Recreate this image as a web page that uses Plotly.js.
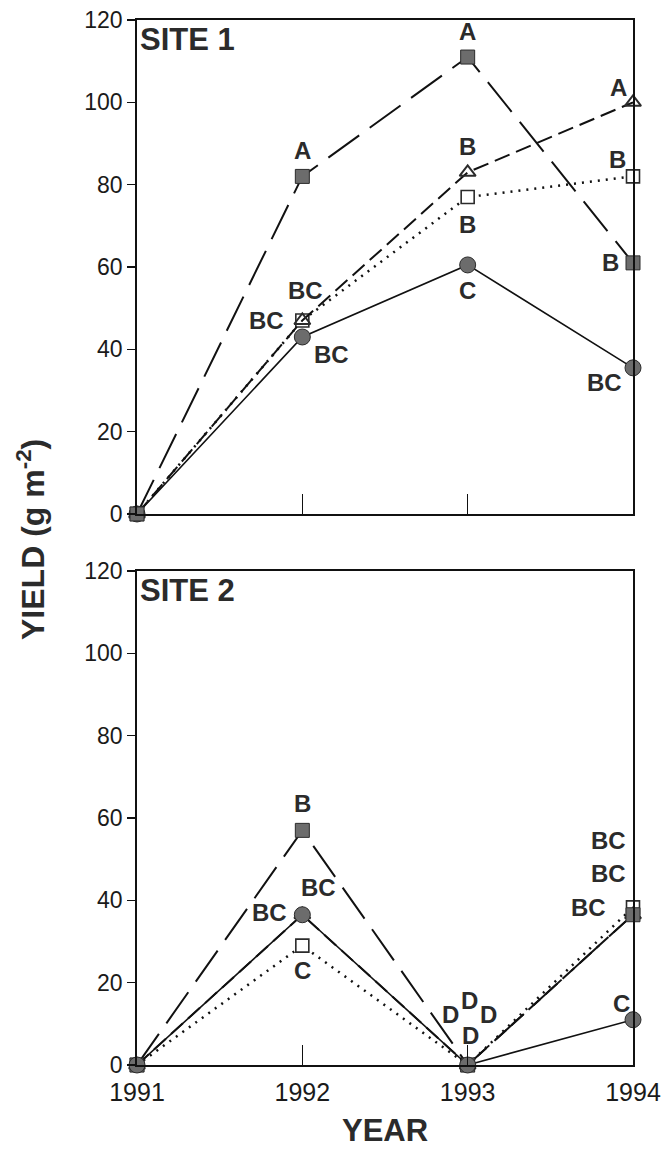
<!DOCTYPE html>
<html><head><meta charset="utf-8">
<script src="https://cdn.plot.ly/plotly-3.0.1.min.js"></script>
<style>html,body{margin:0;padding:0;background:#fff}#chart{width:661px;height:1154px}</style>
</head><body><div id="chart"></div>
<script>
// ---------------- data ----------------
const years = [1991, 1992, 1993, 1994];
const yTickVals = [0, 20, 40, 60, 80, 100, 120];
const xTickLabels = ['1991', '1992', '1993', '1994'];
const panelTitles = ['SITE 1', 'SITE 2'];
const xTitle = 'YEAR';
const yTitle = 'YIELD (g m<sup>-2</sup>)';

// Site 1
const s1FilledSquare = [0, 82, 111, 61];
const s1OpenTriangle = [0, 47, 83, 100];
const s1OpenSquare   = [0, 47, 77, 82];
const s1FilledCircle = [0, 43, 60.5, 35.5];
// Site 2
const s2FilledSquare = [0, 57, 0, 36.5];
const s2OpenTriangle = [0, 36.5, 0, 36.5];
const s2OpenSquare   = [0, 29, 0, 38.3];
const s2FilledCircle = [0, 36.5, 0, 11];

// significance letters
const s1FilledSquareLetters = ['', 'A', 'A', 'B'];
const s1OpenTriangleLetters = ['', 'BC', 'B', 'A'];
const s1OpenSquareLetters   = ['', 'BC', 'B', 'B'];
const s1FilledCircleLetters = ['', 'BC', 'C', 'BC'];
const s2FilledSquareLetters = ['', 'B', 'D', 'BC'];
const s2OpenTriangleLetters = ['', 'BC', 'D', 'BC'];
const s2OpenSquareLetters   = ['', 'C', 'D', 'BC'];
const s2FilledCircleLetters = ['', 'BC', 'D', 'C'];

// ---------------- styles / placement ----------------
const FONT = 'Liberation Sans, Arial, sans-serif';
const INK = '#2b2b2b';
const GRAY = '#6c6c6c';

const styles = {
  fsq:  {marker: {symbol: 'square', size: 14, color: GRAY, line: {color: INK, width: 1}},
         line: {color: '#111', width: 2, dash: '38px,13px'}},
  tri:  {marker: {symbol: 'triangle-up-open', size: 14, color: INK, line: {color: INK, width: 2}},
         line: {color: '#111', width: 2, dash: '16px,7px'}},
  osq:  {marker: {symbol: 'square', size: 13, color: '#fff', line: {color: INK, width: 1.6}},
         line: {color: '#111', width: 2.5, dash: '2px,6px'}},
  circ: {marker: {symbol: 'circle', size: 16, color: GRAY, line: {color: INK, width: 1}},
         line: {color: '#111', width: 1.6, dash: 'solid'}}
};

// label offsets [dx, dy] in screen pixels (dy downward)
const offsets = {
  s1fsq:  [null, [0, -26], [0, -26], [-23, 0]],
  s1tri:  [null, [3, -30], [0, -26], [-15, -15]],
  s1osq:  [null, [-36, 0], [0, 27], [-16, -17]],
  s1circ: [null, [29, 18], [0, 26], [-29, 15]],
  s2fsq:  [null, [0, -27], [-17, -50], [-25, -74]],
  s2tri:  [null, [-33, -2], [2, -64], [-25, -41]],
  s2osq:  [null, [0, 25], [21, -50], [-45, 0]],
  s2circ: [null, [16, -27], [3, -29], [-12, -16]]
};

function trace(ys, st, xa, ya) {
  return {x: years, y: ys, xaxis: xa, yaxis: ya, type: 'scatter', mode: 'lines+markers',
          marker: st.marker, line: st.line, cliponaxis: false, showlegend: false, hoverinfo: 'skip'};
}

const data = [
  trace(s1FilledCircle, styles.circ, 'x', 'y'),
  trace(s1OpenSquare, styles.osq, 'x', 'y'),
  trace(s1OpenTriangle, styles.tri, 'x', 'y'),
  trace(s1FilledSquare, styles.fsq, 'x', 'y'),
  trace(s2OpenSquare, styles.osq, 'x2', 'y2'),
  trace(s2OpenTriangle, styles.tri, 'x2', 'y2'),
  trace(s2FilledSquare, styles.fsq, 'x2', 'y2'),
  trace(s2FilledCircle, styles.circ, 'x2', 'y2')
];

const letterFont = {family: FONT, size: 24, color: INK, weight: 'bold'};
function letters(ys, labs, offs, xr, yr) {
  const out = [];
  labs.forEach((t, i) => {
    if (!t) return;
    out.push({x: years[i], y: ys[i], xref: xr, yref: yr, text: t, showarrow: false,
              xanchor: 'center', yanchor: 'middle', xshift: offs[i][0], yshift: -offs[i][1],
              font: letterFont});
  });
  return out;
}

const annotations = [].concat(
  letters(s1FilledSquare, s1FilledSquareLetters, offsets.s1fsq, 'x', 'y'),
  letters(s1OpenTriangle, s1OpenTriangleLetters, offsets.s1tri, 'x', 'y'),
  letters(s1OpenSquare, s1OpenSquareLetters, offsets.s1osq, 'x', 'y'),
  letters(s1FilledCircle, s1FilledCircleLetters, offsets.s1circ, 'x', 'y'),
  letters(s2FilledSquare, s2FilledSquareLetters, offsets.s2fsq, 'x2', 'y2'),
  letters(s2OpenTriangle, s2OpenTriangleLetters, offsets.s2tri, 'x2', 'y2'),
  letters(s2OpenSquare, s2OpenSquareLetters, offsets.s2osq, 'x2', 'y2'),
  letters(s2FilledCircle, s2FilledCircleLetters, offsets.s2circ, 'x2', 'y2'),
  [
    {xref: 'x domain', yref: 'y domain', x: 0, y: 1, xanchor: 'left', yanchor: 'top',
     xshift: 1, yshift: 0, showarrow: false, text: panelTitles[0],
     font: {family: FONT, size: 31, color: INK, weight: 'bold'}},
    {xref: 'x2 domain', yref: 'y2 domain', x: 0, y: 1, xanchor: 'left', yanchor: 'top',
     xshift: 1, yshift: 0, showarrow: false, text: panelTitles[1],
     font: {family: FONT, size: 31, color: INK, weight: 'bold'}},
    {xref: 'paper', yref: 'paper', x: 0, y: 0.5024, xshift: -106, textangle: -90,
     xanchor: 'center', yanchor: 'middle', showarrow: false, text: yTitle,
     font: {family: FONT, size: 32, color: INK, weight: 'bold'}},
    {xref: 'paper', yref: 'paper', x: 0.5, y: -0.063, xanchor: 'center', yanchor: 'middle',
     showarrow: false, text: xTitle,
     font: {family: FONT, size: 31, color: INK, weight: 'bold'}}
  ]
);

const yAxisBase = {range: [0, 120], tickvals: yTickVals, ticks: 'outside', ticklen: 8, tickwidth: 1.5,
  tickcolor: '#111', showline: true, mirror: true, linecolor: '#111', linewidth: 1.8,
  showgrid: false, zeroline: false, tickfont: {family: FONT, size: 23, color: '#1a1a1a'}};
const xAxisBase = {range: [1991, 1994], ticks: 'inside', ticklen: 20, tickwidth: 1.5,
  tickcolor: '#111', showline: true, mirror: true, linecolor: '#111', linewidth: 1.8,
  showgrid: false, zeroline: false};

const layout = {
  width: 661, height: 1154,
  margin: {l: 137, r: 28, t: 20, b: 89},
  paper_bgcolor: '#fff', plot_bgcolor: '#fff',
  showlegend: false,
  xaxis: Object.assign({}, xAxisBase, {anchor: 'y', tickvals: [1992, 1993], showticklabels: false}),
  yaxis: Object.assign({}, yAxisBase, {domain: [0.5273, 1], anchor: 'x'}),
  xaxis2: Object.assign({}, xAxisBase, {anchor: 'y2', tickvals: years, ticktext: xTickLabels,
    ticklabelstandoff: 4, ticklabeloverflow: 'allow',
    tickfont: {family: FONT, size: 25, color: '#1a1a1a'}}),
  yaxis2: Object.assign({}, yAxisBase, {domain: [0, 0.4727], anchor: 'x2'}),
  annotations: annotations
};

Plotly.newPlot('chart', data, layout, {displayModeBar: false, staticPlot: true});
</script>
</body></html>
